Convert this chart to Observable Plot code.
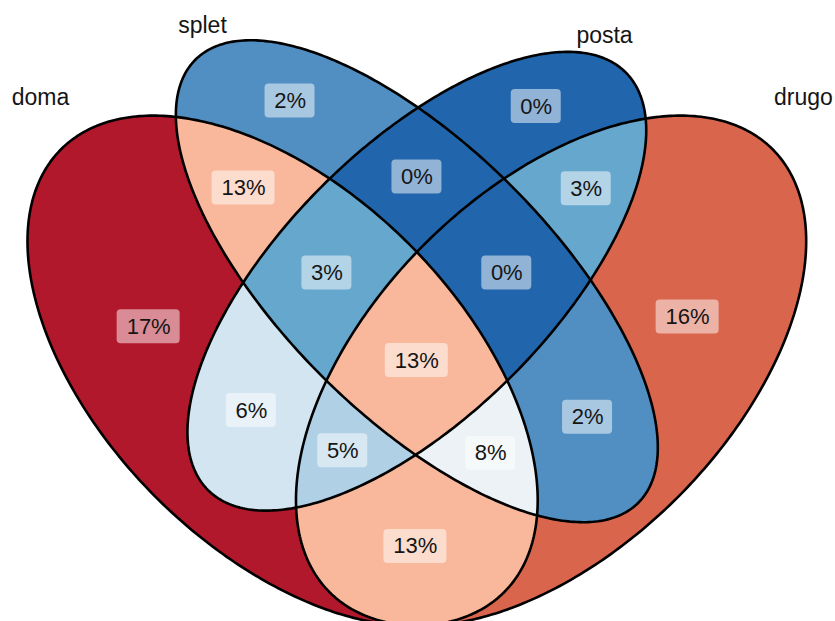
<!DOCTYPE html>
<html><head><meta charset="utf-8">
<script src="https://cdn.jsdelivr.net/npm/d3@7"></script>
<script src="https://cdn.jsdelivr.net/npm/@observablehq/plot@0.6"></script>
<style>body{margin:0;background:#fff} svg{display:block}</style>
</head><body><div id="chart"></div>
<script>
// Sets and their ellipses (ggVennDiagram 4-set layout)
const sets = ["doma", "splet", "posta", "drugo"];
const ellipseCX = [0.35, 0.50, 0.50, 0.65];
const ellipseCY = [0.47, 0.57, 0.57, 0.47];
const ellipseA = [0.35, 0.35, 0.33, 0.35];
const ellipseB = [0.20, 0.15, 0.15, 0.20];
const ellipseRot = [135, 135, 45, 45];

// Regions (A=doma, B=splet, C=posta, D=drugo)
const regionKeys = ["A", "B", "C", "D", "AB", "AC", "AD", "BC", "BD", "CD", "ABC", "ABD", "ACD", "BCD", "ABCD"];
// printed (rounded) percentages
const regionPct = [17, 2, 0, 16, 13, 6, 13, 0, 2, 3, 3, 8, 5, 0, 13];
// estimated unrounded shares (fill colour is driven by these)
const regionValue = [17.4, 2.0, 0.2, 15.6, 12.9, 6.0, 12.9, 0.2, 2.0, 3.0, 3.0, 8.0, 5.0, 0.2, 12.9];

// Set name label anchors (data units)
const setLabelX = [0.0795, 0.2605, 0.7097, 0.932];
const setLabelY = [0.7753, 0.8558, 0.8446, 0.7753];

// layout
const W = 835, H = 621;
const xDomain = [0.0348, 0.9678];
const yDomain = [0.1898, 0.8837];
const palette = ["#2166AC", "#67A9CF", "#D1E5F0", "#F7F7F7", "#FDDBC7", "#EF8A62", "#B2182B"];

function inside(k, x, y) {
  const t = ellipseRot[k] * Math.PI / 180;
  const dx = x - ellipseCX[k], dy = y - ellipseCY[k];
  const u = dx * Math.cos(t) + dy * Math.sin(t);
  const v = -dx * Math.sin(t) + dy * Math.cos(t);
  return (u / ellipseA[k]) ** 2 + (v / ellipseB[k]) ** 2 <= 1;
}
function regionKey(x, y) {
  let s = "";
  for (let k = 0; k < 4; ++k) if (inside(k, x, y)) s += "ABCD"[k];
  return s;
}
const valueByKey = new Map(regionKeys.map((k, i) => [k, regionValue[i]]));

// centroids of regions
const acc = new Map(regionKeys.map(k => [k, {sx: 0, sy: 0, n: 0}]));
const step = 0.0015;
for (let x = 0; x <= 1; x += step) {
  for (let y = 0; y <= 1; y += step) {
    const k = regionKey(x, y);
    if (k) { const a = acc.get(k); a.sx += x; a.sy += y; a.n++; }
  }
}
const labels = regionKeys.map((k, i) => {
  const a = acc.get(k);
  return {key: k, pct: regionPct[i], label: regionPct[i] + "%", cx: a.sx / a.n, cy: a.sy / a.n};
});

// ellipse outlines
const ellipsePts = [];
sets.forEach((s, k) => {
  const r = ellipseRot[k] * Math.PI / 180;
  for (let i = 0; i <= 400; ++i) {
    const t = i / 400 * 2 * Math.PI;
    const u = ellipseA[k] * Math.cos(t), v = ellipseB[k] * Math.sin(t);
    ellipsePts.push({set: s, x: ellipseCX[k] + u * Math.cos(r) - v * Math.sin(r), y: ellipseCY[k] + u * Math.sin(r) + v * Math.cos(r)});
  }
});

const setLabels = sets.map((s, i) => ({name: s, x: setLabelX[i], y: setLabelY[i]}));

const boxStyle = (hw) => ({x1: "cx", x2: "cx", y1: "cy", y2: "cy",
  insetLeft: -hw, insetRight: -hw, insetTop: -17, insetBottom: -17,
  fill: "white", fillOpacity: 0.5, rx: 4});

const chart = Plot.plot({
  width: W, height: H,
  marginTop: 0, marginRight: 0, marginBottom: 0, marginLeft: 0,
  x: {domain: xDomain, axis: null},
  y: {domain: yDomain, axis: null},
  color: {type: "linear", domain: d3.extent(regionValue), interpolate: d3.piecewise(d3.interpolateLab, palette)},
  style: {fontFamily: "'Liberation Sans', Arial, sans-serif", background: "white"},
  marks: [
    Plot.raster({
      x1: xDomain[0], x2: xDomain[1], y1: yDomain[0], y2: yDomain[1],
      width: W, height: H,
      fill: (x, y) => { const k = regionKey(x, y); return k ? valueByKey.get(k) : NaN; }
    }),
    Plot.line(ellipsePts, {x: "x", y: "y", z: "set", stroke: "black", strokeWidth: 2.6}),
    Plot.rect(labels.filter(d => d.label.length === 2), boxStyle(25)),
    Plot.rect(labels.filter(d => d.label.length === 3), boxStyle(31.5)),
    Plot.text(labels, {x: "cx", y: "cy", text: "label", fontSize: 22, fill: "#151515"}),
    Plot.text(setLabels, {x: "x", y: "y", text: "name", fontSize: 23, fill: "#151515"})
  ]
});
document.getElementById("chart").appendChild(chart);
</script>
</body></html>
